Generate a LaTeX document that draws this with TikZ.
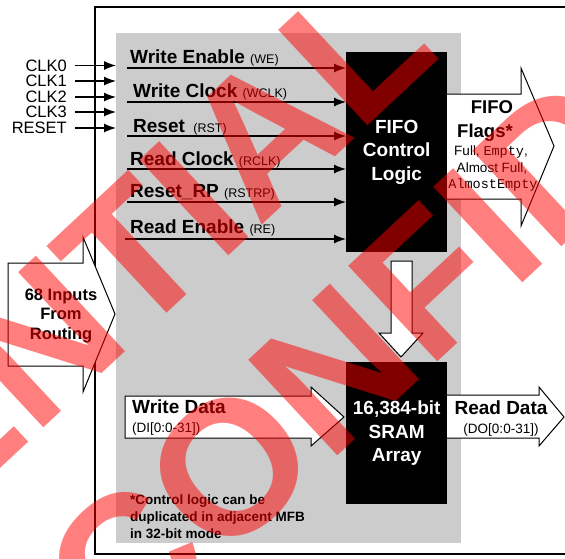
\documentclass[tikz,border=0pt]{standalone}
\usepackage{fontspec}
\setmainfont{Liberation Sans}
\setmonofont{Liberation Mono}
\usetikzlibrary{arrows.meta}
\definecolor{panel}{HTML}{CCCCCC}
\newcommand{\fbig}{\fontsize{19}{23.5}\selectfont}
\newcommand{\fmid}{\fontsize{16.5}{19.5}\selectfont}
\newcommand{\fsml}{\fontsize{13.5}{17}\selectfont}
\newcommand{\siglbl}[2]{\textbf{#1}~{\fontsize{12.5}{14}\selectfont(#2)}}

\begin{document}
\begin{tikzpicture}[x=1pt,y=-1pt,
    sig/.style={-{Latex[length=12pt,width=9pt]},line width=1.2pt},
    blk/.style={fill=black,text=white,font=\fbig\bfseries,align=center,inner sep=0pt,anchor=north west},
    lbl/.style={anchor=base west,inner sep=0pt,font=\fbig},
    fat/.style={draw=black,fill=white,line width=1pt},
    wm/.style={text=red,opacity=0.5,font=\fontsize{190}{190}\selectfont\bfseries,anchor=base west,rotate=43,inner sep=0pt}]
    \useasboundingbox (0,0) rectangle (565,558);
    \clip (0,0) rectangle (565,558);

    % frame and panel
    \draw[line width=1.1pt] (95,7) rectangle (580,554);
    \node[fill=panel,minimum width=345,minimum height=510,inner sep=0pt,anchor=north west] (gray) at (116,33) {};

    % block arrows
    \filldraw[fat] (8,263) -- (83,263) -- (83,237) -- (115,314) -- (83,392) -- (83,366) -- (8,366) -- cycle;
    \filldraw[fat] (447,94) -- (521,94) -- (521,68) -- (554,146) -- (521,226) -- (521,199) -- (447,199);
    \filldraw[fat] (391,261) -- (391,333) -- (379,333) -- (401,357) -- (423,333) -- (412,333) -- (412,261) -- cycle;
    \filldraw[fat] (125,396) -- (311,396) -- (311,387) -- (344,417) -- (311,446) -- (311,438) -- (125,438) -- cycle;
    \filldraw[fat] (447,395) -- (539,395) -- (539,387) -- (564,417) -- (539,446) -- (539,438) -- (447,438);

    % blocks
    \node[blk,minimum width=101,minimum height=200] (ctrl) at (346,52) {FIFO\\Control\\Logic};
    \node[blk,minimum width=101,minimum height=142] (sram) at (346,362) {16,384-bit\\SRAM\\Array};

    % clock inputs
    \foreach \name/\txt/\yy in {clk0/CLK0/65.5,clk1/CLK1/81,clk2/CLK2/97,clk3/CLK3/112,rst/RESET/128}{
        \node[anchor=east,inner sep=0pt,font=\fmid] (\name) at (67,\yy) {\txt};
        \draw[sig] ([xshift=8pt]\name.east) -- (\name.east -| gray.west);
    }

    % control signals
    \coordinate (we) at (127,68);
    \coordinate (wclk) at (127,102);
    \coordinate (rs) at (127,136);
    \coordinate (rclk) at (127,169);
    \coordinate (rstrp) at (127,202);
    \coordinate (re) at (125,239);
    \foreach \c in {we,wclk,rs,rclk,rstrp,re}
        \draw[sig] (\c) -- (\c -| ctrl.west);
    \node[lbl] (welbl) at (130,63) {\siglbl{Write Enable}{WE}};
    \node[lbl] (wclklbl) at (133,97) {\siglbl{Write Clock}{WCLK}};
    \node[lbl] (rslbl) at (133,132) {\siglbl{Reset\,}{RST}};
    \node[lbl] (rclklbl) at (130,165) {\siglbl{Read Clock}{RCLK}};
    \node[lbl] (rstrplbl) at (130,197) {\siglbl{Reset\_RP}{RSTRP}};
    \node[lbl] (relbl) at (130,233) {\siglbl{Read Enable}{RE}};

    % arrow texts
    \node[anchor=base,inner sep=0pt,font=\fmid\bfseries,align=center] (routing) at (61,339) {68 Inputs\\From\\Routing};
    \node[anchor=base,inner sep=0pt,font=\fontsize{18.5}{22}\selectfont\bfseries] (fifoA) at (492,113) {FIFO};
    \node[anchor=base,inner sep=0pt,font=\fontsize{18.5}{22}\selectfont\bfseries] (fifoB) at (485,137) {Flags*};
    \node[anchor=base,inner sep=0pt,font=\fsml] (flagsA) at (491,155) {Full, \texttt{Empty},};
    \node[anchor=base,inner sep=0pt,font=\fsml] (flagsB) at (492,172) {Almost Full,};
    \node[anchor=base,inner sep=0pt,font=\fsml] (flagsC) at (493,188) {\texttt{AlmostEmpty}};
    \node[lbl] (wdata) at (132,413) {\textbf{Write Data}};
    \node[lbl,font=\fsml] (wdatab) at (132,432) {(DI[0:0-31])};
    \node[anchor=base,inner sep=0pt,font=\fbig\bfseries] (rdata) at (501,414) {Read Data};
    \node[anchor=base,inner sep=0pt,font=\fsml] (rdatab) at (501,433) {(DO[0:0-31])};

    % footnote
    \node[anchor=base west,inner sep=0pt,font=\fsml\bfseries,align=left] (note) at (130,538)
        {*Control logic can be\\duplicated in adjacent MFB\\in 32-bit mode};

    % watermark
    \node[wm] (wmlow) at (120,659) {CONFIDENTIAL};
    \node[wm] (wmup) at (-591,1020) {CONFIDENTIAL};
\end{tikzpicture}
\end{document}
